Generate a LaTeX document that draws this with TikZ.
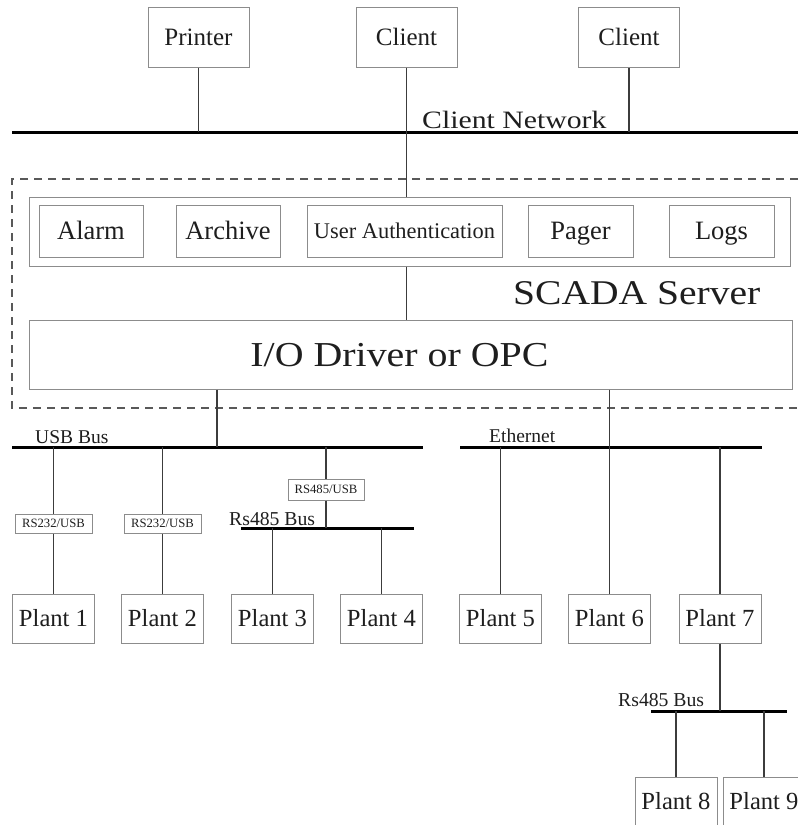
\documentclass[tikz,border=0pt]{standalone}
\usepackage{fontspec}
\usepackage{graphicx}
\setmainfont{Liberation Serif}
\definecolor{boxgray}{HTML}{8C8C8C}
\definecolor{linegray}{HTML}{3C3C3C}
\definecolor{txt}{HTML}{1E1E1E}
\newcommand{\fs}[1]{\fontsize{#1}{#1}\selectfont}
\begin{document}
\begin{tikzpicture}[x=1pt,y=-1pt,
  box/.style={draw=boxgray,line width=1pt,inner sep=0pt,text=txt,align=center,text depth=0pt},
  top/.style={box,minimum width=101pt,minimum height=60pt,font=\fs{25},text height=16.5pt},
  mod/.style={box,minimum width=105pt,minimum height=52pt,font=\fs{26.5},text height=17.5pt},
  plant/.style={box,minimum width=82pt,minimum height=49pt,font=\fs{24.6},text height=16.2pt},
  conv/.style={box,minimum width=77pt,minimum height=19pt,font=\fs{12.7},text height=8.4pt},
  wire/.style={draw=linegray,line width=1.4pt},
  bus/.style={draw=black,line width=3pt},
  lbl/.style={inner sep=0pt,anchor=base west,text=txt},
  frame/.style={draw=linegray!85,line width=1.4pt,dash pattern=on 8pt off 6pt}
]
\useasboundingbox (0,0) rectangle (798,825);

% top devices
\node[top] (printer) at (198.5,37) {Printer};
\node[top] (client1) at (406.5,37) {Client};
\node[top] (client2) at (629,37.5) {Client};

% client network
\coordinate (netL) at (12,132);
\coordinate (netR) at (798,132);
\draw[bus] (netL) -- (netR);
\node[lbl,font=\fs{25}] (netlbl) at (422,128) {\scalebox{1.19}[1]{Client Network}};

% SCADA server frame
\draw[frame] (798,179) -- (12,179) -- (12,408) -- (798,408);

\node[box,minimum width=761pt,minimum height=69pt] (modules) at (409.5,231.5) {};
\node[mod,minimum width=104pt] (alarm) at (91,231) {Alarm};
\node[mod,minimum width=104pt] (archive) at (228,231) {Archive};
\node[mod,minimum width=195pt,font=\fs{22.4},text height=14.8pt] (ua) at (404.5,231) {User Authentication};
\node[mod] (pager) at (580.5,231) {Pager};
\node[mod] (logs) at (721.5,231) {Logs};

\node[lbl,font=\fs{34.7}] (scadalbl) at (513,304) {\scalebox{1.14}[1]{SCADA Server}};

\node[box,minimum width=763pt,minimum height=69pt,font=\fs{35},text height=23pt] (io) at (410.5,354.5)
  {\hspace*{-22pt}\scalebox{1.14}[1]{I/O Driver or OPC}};

% buses
\coordinate (usbL) at (12,447);
\coordinate (usbR) at (423,447);
\coordinate (usbdrop) at (217,447);
\draw[bus] (usbL) -- (usbR);
\node[lbl,font=\fs{19.5}] (usblbl) at (35,443) {USB Bus};

\coordinate (ethL) at (460,447);
\coordinate (ethR) at (762,447);
\draw[bus] (ethL) -- (ethR);
\node[lbl,font=\fs{19.5}] (ethlbl) at (489,442) {Ethernet};

\coordinate (rsAL) at (241,528);
\coordinate (rsAR) at (414,528);
\draw[bus] (rsAL) -- (rsAR);
\node[lbl,font=\fs{19.7}] (rsAlbl) at (229,525) {Rs485 Bus};

\coordinate (rsBL) at (651,711);
\coordinate (rsBR) at (787,711);
\draw[bus] (rsBL) -- (rsBR);
\node[lbl,font=\fs{19.7}] (rsBlbl) at (618,706) {Rs485 Bus};

% converters
\node[conv] (rs1) at (53.5,523.5) {RS232/USB};
\node[conv] (rs2) at (162.5,523.5) {RS232/USB};
\node[conv,minimum width=76pt,minimum height=21pt] (rs3) at (326,489.5) {RS485/USB};

% plants
\node[plant] (p1) at (53.5,618.5) {Plant 1};
\node[plant] (p2) at (162.5,618.5) {Plant 2};
\node[plant] (p3) at (272.5,618.5) {Plant 3};
\node[plant] (p4) at (381.5,618.5) {Plant 4};
\node[plant] (p5) at (500.5,618.5) {Plant 5};
\node[plant] (p6) at (609.5,618.5) {Plant 6};
\node[plant] (p7) at (720,618.5) {Plant 7};
\node[plant] (p8) at (676,801.5) {Plant 8};
\node[plant] (p9) at (764,801.5) {Plant 9};

% connectors
\draw[wire] (printer.south) -- (printer.south |- netL);
\draw[wire] (client1.south) -- (client1.south |- modules.north);
\draw[wire] (client2.south) -- (client2.south |- netL);
\draw[wire] (modules.south -| client1.south) -- (io.north -| client1.south);
\draw[wire] (io.south -| usbdrop) -- (usbdrop);
\draw[wire] (io.south -| p6.north) -- (p6.north);

\draw[wire] (rs1.north |- usbL) -- (rs1.north);
\draw[wire] (rs1.south) -- (p1.north);
\draw[wire] (rs2.north |- usbL) -- (rs2.north);
\draw[wire] (rs2.south) -- (p2.north);
\draw[wire] (rs3.north |- usbL) -- (rs3.north);
\draw[wire] (rs3.south) -- (rs3.south |- rsAL);
\draw[wire] (p3.north |- rsAL) -- (p3.north);
\draw[wire] (p4.north |- rsAL) -- (p4.north);

\draw[wire] (p5.north |- ethL) -- (p5.north);
\draw[wire] (p7.north |- ethL) -- (p7.north);
\draw[wire] (p7.south) -- (p7.south |- rsBL);
\draw[wire] (p8.north |- rsBL) -- (p8.north);
\draw[wire] (p9.north |- rsBL) -- (p9.north);
\end{tikzpicture}
\end{document}
